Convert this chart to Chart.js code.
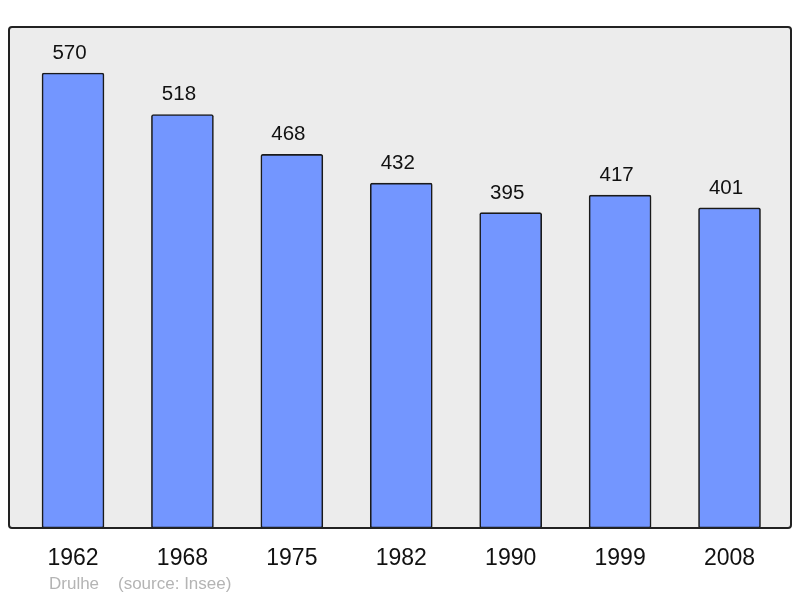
<!DOCTYPE html>
<html>
<head>
<meta charset="utf-8">
<script src="https://cdn.jsdelivr.net/npm/chart.js@4/dist/chart.umd.min.js"></script>
<style>
html,body{margin:0;padding:0;background:#fff;}
#wrap{position:relative;width:800px;height:598px;}
.ft{position:absolute;top:574px;font-family:"Liberation Sans",Arial,sans-serif;font-size:17px;color:#b4b4b4;white-space:pre;}
</style>
</head>
<body>
<div id="wrap">
<canvas id="c" width="800" height="598"></canvas>
<div class="ft" style="left:49px">Drulhe</div>
<div class="ft" style="left:118px">(source: Insee)</div>
</div>
<script>
const years = ["1962","1968","1975","1982","1990","1999","2008"];
const population = [570,518,468,432,395,417,401];

const boxPlugin = {
  id:'box',
  beforeDraw(chart){
    const {ctx, chartArea:a} = chart;
    ctx.save();
    ctx.fillStyle = '#ececec';
    ctx.beginPath();
    ctx.roundRect(a.left, a.top, a.right-a.left, a.bottom-a.top, 3);
    ctx.fill();
    ctx.restore();
  },
  afterDatasetsDraw(chart){
    const {ctx, chartArea:a} = chart;
    const xs = chart.scales.x, ys = chart.scales.y;
    ctx.save();
    ctx.strokeStyle = '#222';
    ctx.lineWidth = 2;
    ctx.beginPath();
    ctx.roundRect(a.left, a.top, a.right-a.left, a.bottom-a.top, 3);
    ctx.stroke();
    ctx.fillStyle = '#111';
    ctx.font = '20.5px "Liberation Sans", Arial, sans-serif';
    ctx.textAlign = 'center';
    ctx.textBaseline = 'alphabetic';
    population.forEach((v,i)=>{
      ctx.fillText(String(v), xs.getPixelForValue(i)-3.5, ys.getPixelForValue(v)-14);
    });
    ctx.font = '23px "Liberation Sans", Arial, sans-serif';
    years.forEach((y,i)=>{
      ctx.fillText(y, xs.getPixelForValue(i), a.bottom+37);
    });
    ctx.restore();
  }
};

new Chart(document.getElementById('c'), {
  type:'bar',
  data:{
    datasets:[{
      data: population.map((v,i)=>({x:i,y:v})),
      backgroundColor:'#7396ff',
      borderColor:'#1a1a1a',
      borderWidth:1.6,
      borderRadius:2,
      borderSkipped:false,
      barThickness:62
    }]
  },
  options:{
    responsive:false,
    animation:false,
    devicePixelRatio:1,
    layout:{padding:{left:9,right:9,top:27,bottom:70}},
    plugins:{legend:{display:false},tooltip:{enabled:false}},
    scales:{
      x:{type:'linear',min:-0.585,max:6.562,offset:false,display:false},
      y:{min:0,max:627.6,display:false}
    }
  },
  plugins:[boxPlugin]
});
</script>
</body>
</html>
